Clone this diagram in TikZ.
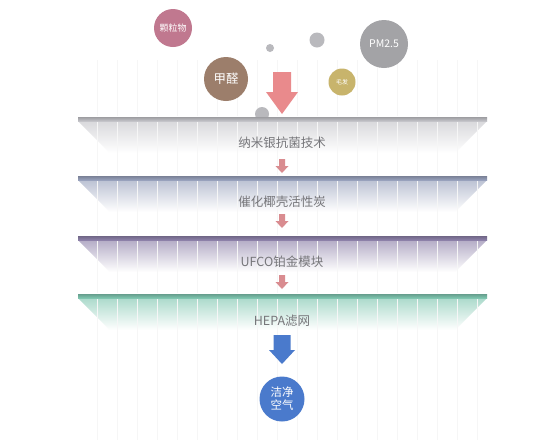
\documentclass[tikz,border=0pt]{standalone}
\usepackage{fontspec}
\setmainfont{Noto Sans CJK SC}
\definecolor{txtgray}{HTML}{76767A}
\definecolor{cKeli}{HTML}{C0788F}
\definecolor{cPM}{HTML}{A3A3A6}
\definecolor{cJia}{HTML}{9C7E6B}
\definecolor{cMao}{HTML}{C8B46C}
\definecolor{cDot}{HTML}{B9B9BD}
\definecolor{cRed}{HTML}{E98A8C}
\definecolor{cPink}{HTML}{D98C90}
\definecolor{cBlue}{HTML}{4A7ACC}
\definecolor{cL1}{HTML}{C4C4C9}
\definecolor{cL2}{HTML}{98A1BC}
\definecolor{cL3}{HTML}{8C80A8}
\definecolor{cL4}{HTML}{7FC6B0}
\tikzset{
  bubble/.style={circle, inner sep=0pt, text=white, align=center},
  lbl/.style={text=txtgray, font=\fontsize{12.5}{14}\selectfont, inner sep=1pt},
  gridline/.style={draw=black!3.5, line width=0.6pt}
}
\newcommand\layerplate[2]{%
  \shade[top color=#2!65!white, bottom color=white] (78,#1+4) -- (487,#1+4) -- (455,#1+36) -- (110,#1+36) -- cycle;
  \shade[top color=#2!80!black, bottom color=#2] (78,#1) rectangle (487,#1+4);
}
\newcommand\dnarrow[7]{% color, x, ytop, yhead, ytip, shaft half, head half
  \fill[#1] (#2-#6,#3) -- (#2+#6,#3) -- (#2+#6,#4) -- (#2+#7,#4) -- (#2,#5) -- (#2-#7,#4) -- (#2-#6,#4) -- cycle;
}
\begin{document}
\begin{tikzpicture}[x=1pt,y=-1pt]
\useasboundingbox (0,0) rectangle (534,445);
\fill[white] (0,0) rectangle (534,445);
% faint vertical grid lines
\foreach \x in {97,117,...,477}{
  \draw[gridline] (\x,60) -- (\x,116);
}
% bubbles
\node[bubble, fill=cKeli, minimum size=38pt, font=\fontsize{9}{10}\selectfont] (keli) at (173,28) {颗粒物};
\node[bubble, fill=cDot, minimum size=8pt] (d1) at (270,48) {};
\node[bubble, fill=cDot, minimum size=15pt] (d2) at (317,40) {};
\node[bubble, fill=cPM, minimum size=48pt, font=\fontsize{10.5}{12}\selectfont] (pm) at (384,44) {PM2.5};
\node[bubble, fill=cJia, minimum size=44pt, font=\fontsize{12.5}{14}\selectfont] (jia) at (226,79) {甲醛};
\node[bubble, fill=cMao, minimum size=27pt, font=\fontsize{6}{7}\selectfont] (mao) at (342,82) {毛发};
\node[bubble, fill=cDot, minimum size=14pt] (d3) at (262,114) {};
% big red arrow
\dnarrow{cRed}{282}{72}{92}{114}{9}{16}
% layers
\layerplate{117}{cL1}
\layerplate{176}{cL2}
\layerplate{236}{cL3}
\layerplate{294}{cL4}
% grid lines over the fading plates
\foreach \x in {97,117,...,477}{
  \draw[gridline] (\x,122) -- (\x,175);
  \draw[gridline] (\x,181) -- (\x,235);
  \draw[gridline] (\x,241) -- (\x,293);
  \draw[gridline] (\x,299) -- (\x,440);
}
% labels
\node[lbl] (t1) at (282,143) {纳米银抗菌技术};
\node[lbl] (t2) at (282,202) {催化椰壳活性炭};
\node[lbl] (t3) at (282,262) {UFCO铂金模块};
\node[lbl] (t4) at (282,321) {HEPA滤网};
% small arrows
\dnarrow{cPink}{282}{159}{166}{173}{3}{6.5}
\dnarrow{cPink}{282}{214}{221}{228}{3}{6.5}
\dnarrow{cPink}{282}{275}{282}{289}{3}{6.5}
% blue arrow
\dnarrow{cBlue}{282}{335}{350}{364}{8.5}{13}
% clean air
\node[bubble, fill=cBlue, minimum size=45pt, font=\fontsize{11.5}{13}\selectfont] (air) at (282,399) {洁净\\空气};
\end{tikzpicture}
\end{document}
